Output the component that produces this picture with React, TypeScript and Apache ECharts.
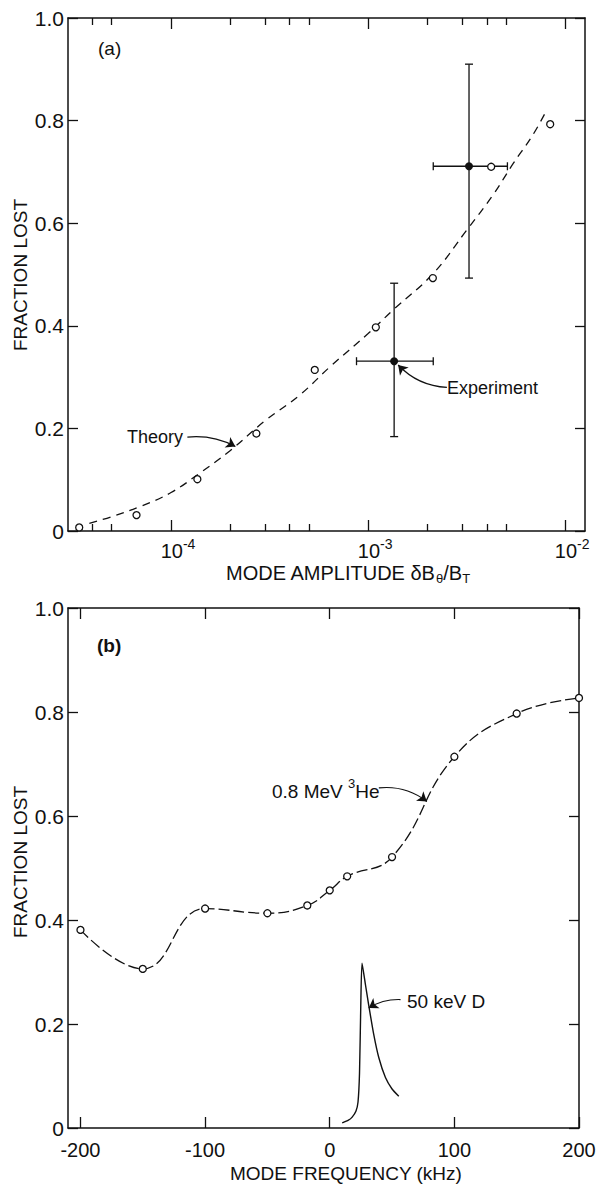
import React, { useEffect, useRef } from 'react';
import * as echarts from 'echarts';

const FONT = "'Liberation Sans', Arial, sans-serif";
const INK = '#111';

// ---------- Panel (a): fraction lost vs mode amplitude ----------
const theoryAmp = [3.85e-5, 5e-5, 7e-5, 1e-4, 1.4e-4, 2e-4, 3e-4, 4.5e-4, 6.4e-4, 1e-3, 1.34e-3, 2.14e-3, 3.17e-3, 4.3e-3, 5.46e-3, 6.8e-3, 8.07e-3];
const theoryFrac = [0.015, 0.028, 0.048, 0.075, 0.113, 0.157, 0.215, 0.265, 0.32, 0.385, 0.431, 0.502, 0.587, 0.655, 0.717, 0.77, 0.821];
const theoryPtAmp = [3.42e-5, 6.68e-5, 1.36e-4, 2.71e-4, 5.36e-4, 1.094e-3, 2.13e-3, 4.21e-3, 8.39e-3];
const theoryPtFrac = [0.007, 0.031, 0.101, 0.19, 0.314, 0.397, 0.493, 0.71, 0.793];
const expAmp = [1.355e-3, 3.25e-3];
const expFrac = [0.331, 0.711];
const expAmpLo = [8.73e-4, 2.14e-3];
const expAmpHi = [2.14e-3, 5.09e-3];
const expFracLo = [0.184, 0.493];
const expFracHi = [0.483, 0.91];
const ampMajorTicks = [1e-4, 1e-3, 1e-2];
const ampMinorTicks = [4e-5, 5e-5, 2e-4, 3e-4, 4e-4, 5e-4, 2e-3, 3e-3, 4e-3, 5e-3];
const ampMin = 3e-5;
const ampMax = 1.26e-2;

// ---------- Panel (b): fraction lost vs mode frequency ----------
const freq = [-200, -150, -100, -50, -18, 0, 14, 50, 100, 150, 200];
const he3Frac = [0.381, 0.306, 0.422, 0.413, 0.428, 0.457, 0.484, 0.521, 0.714, 0.797, 0.827];
const dFreq = [10, 15, 18, 21, 22.7, 23.9, 24.9, 25.9, 28.7, 31.3, 35.3, 39.4, 44.7, 50, 55.4];
const dFrac = [0.01, 0.015, 0.021, 0.032, 0.05, 0.106, 0.234, 0.317, 0.275, 0.236, 0.18, 0.135, 0.097, 0.075, 0.061];
const freqTicks = [-200, -100, 0, 100, 200];
const freqMin = -210;
const freqMax = 200;

// annotation arrows (data units)
const theoryArrow = [[1.21e-4, 0.183], [2.12e-4, 0.1647]];
const expArrow = [[2.51e-3, 0.28], [1.42e-3, 0.3236]];
const he3Arrow = [[39.4, 0.654], [77.9, 0.628]];
const dArrow = [[56.8, 0.247], [31.3, 0.231]];

const zip = (a: number[], b: number[]) => a.map((v, i) => [v, b[i]]);

const axisLineStyle = { color: INK, width: 1.5 };
const tickStyle = { color: INK, width: 1.3 };

function xAxisDef(gridIndex: number, type: string, min: number, max: number, position: string, ticks: number[], len: number, showLine: boolean, labels: any) {
  return {
    type,
    gridIndex,
    position,
    min,
    max,
    logBase: 10,
    axisLine: { show: showLine, onZero: false, lineStyle: axisLineStyle },
    axisTick: { show: true, inside: true, length: len, customValues: ticks, lineStyle: tickStyle },
    axisLabel: labels ? labels : { show: false },
    splitLine: { show: false },
    minorTick: { show: false },
    minorSplitLine: { show: false },
  };
}

function yAxisDef(gridIndex: number, position: string, showLabels: boolean) {
  return {
    type: 'value',
    gridIndex,
    position,
    min: 0,
    max: 1,
    interval: 0.2,
    axisLine: { show: true, onZero: false, lineStyle: axisLineStyle },
    axisTick: { show: true, inside: true, length: 10, lineStyle: tickStyle },
    axisLabel: showLabels
      ? {
          show: true,
          margin: 4,
          color: INK,
          fontFamily: FONT,
          fontSize: 21,
          formatter: (v: number) => (v === 0 ? '0' : v.toFixed(1)),
        }
      : { show: false },
    splitLine: { show: false },
  };
}

function arrowSeries(xi: number, yi: number, coords: number[][], curveness: number) {
  return {
    type: 'lines',
    coordinateSystem: 'cartesian2d',
    xAxisIndex: xi,
    yAxisIndex: yi,
    symbol: ['none', 'arrow'],
    symbolSize: 9,
    lineStyle: { color: INK, width: 1.2, curveness, opacity: 1 },
    data: [{ coords }],
    silent: true,
    z: 5,
  };
}

export default function App() {
  const ref = useRef<HTMLDivElement>(null);

  useEffect(() => {
    if (!ref.current) return;
    const chart = echarts.init(ref.current, null, { renderer: 'svg' });

    const powLabel = {
      show: true,
      customValues: ampMajorTicks,
      margin: 6,
      color: INK,
      fontFamily: FONT,
      formatter: (v: number) => `{b|10}{s|${Math.round(Math.log10(v))}}`,
      rich: {
        b: { fontSize: 20, lineHeight: 24, verticalAlign: 'bottom', fontFamily: FONT, color: INK },
        s: { fontSize: 14, lineHeight: 12, verticalAlign: 'top', fontFamily: FONT, color: INK },
      },
      padding: [0, 0, 0, 14],
    };

    const freqLabel = {
      show: true,
      customValues: freqTicks,
      margin: 12,
      color: INK,
      fontFamily: FONT,
      fontSize: 20,
      formatter: (v: number) => String(v),
    };

    const errorData = expAmp.map((x, i) => [x, expFrac[i], expAmpLo[i], expAmpHi[i], expFracLo[i], expFracHi[i]]);

    const option: any = {
      animation: false,
      backgroundColor: '#fff',
      grid: [
        { left: 68, top: 18, width: 517, height: 513, outerBoundsMode: 'none', containLabel: false },
        { left: 68, top: 608, width: 511, height: 520, outerBoundsMode: 'none', containLabel: false },
      ],
      xAxis: [
        xAxisDef(0, 'log', ampMin, ampMax, 'bottom', ampMajorTicks, 11, true, powLabel),
        xAxisDef(0, 'log', ampMin, ampMax, 'bottom', ampMinorTicks, 7, false, null),
        xAxisDef(0, 'log', ampMin, ampMax, 'top', ampMajorTicks, 11, true, null),
        xAxisDef(0, 'log', ampMin, ampMax, 'top', ampMinorTicks, 7, false, null),
        xAxisDef(1, 'value', freqMin, freqMax, 'bottom', freqTicks, 11, true, freqLabel),
        xAxisDef(1, 'value', freqMin, freqMax, 'top', freqTicks, 11, true, null),
      ],
      yAxis: [
        yAxisDef(0, 'left', true),
        yAxisDef(0, 'right', false),
        yAxisDef(1, 'left', true),
        yAxisDef(1, 'right', false),
      ],
      series: [
        {
          type: 'line',
          xAxisIndex: 0,
          yAxisIndex: 0,
          data: zip(theoryAmp, theoryFrac),
          smooth: 0.4,
          showSymbol: false,
          lineStyle: { color: INK, width: 1.3, type: [8, 6] },
          z: 2,
        },
        {
          type: 'scatter',
          xAxisIndex: 0,
          yAxisIndex: 0,
          data: zip(theoryPtAmp, theoryPtFrac),
          symbol: 'circle',
          symbolSize: 7,
          itemStyle: { color: '#fff', borderColor: INK, borderWidth: 1.3, opacity: 1 },
          z: 4,
        },
        {
          type: 'custom',
          xAxisIndex: 0,
          yAxisIndex: 0,
          data: errorData,
          encode: { x: [0, 2, 3], y: [1, 4, 5] },
          renderItem: (params: any, api: any) => {
            const x = api.value(0);
            const y = api.value(1);
            const pL = api.coord([api.value(2), y]);
            const pR = api.coord([api.value(3), y]);
            const pB = api.coord([x, api.value(4)]);
            const pT = api.coord([x, api.value(5)]);
            const style = { stroke: INK, lineWidth: 1.3, fill: 'none' };
            const c = 4;
            const ln = (x1: number, y1: number, x2: number, y2: number) => ({
              type: 'line',
              shape: { x1, y1, x2, y2 },
              style,
            });
            return {
              type: 'group',
              children: [
                ln(pL[0], pL[1], pR[0], pR[1]),
                ln(pL[0], pL[1] - c, pL[0], pL[1] + c),
                ln(pR[0], pR[1] - c, pR[0], pR[1] + c),
                ln(pB[0], pB[1], pT[0], pT[1]),
                ln(pB[0] - c, pB[1], pB[0] + c, pB[1]),
                ln(pT[0] - c, pT[1], pT[0] + c, pT[1]),
              ],
            };
          },
          z: 3,
        },
        {
          type: 'scatter',
          xAxisIndex: 0,
          yAxisIndex: 0,
          data: zip(expAmp, expFrac),
          symbol: 'circle',
          symbolSize: 8,
          itemStyle: { color: INK, opacity: 1 },
          z: 5,
        },
        arrowSeries(0, 0, theoryArrow, 0.15),
        arrowSeries(0, 0, expArrow, 0.2),
        {
          type: 'line',
          xAxisIndex: 4,
          yAxisIndex: 2,
          data: zip(freq, he3Frac),
          smooth: 0.45,
          showSymbol: false,
          lineStyle: { color: INK, width: 1.3, type: [11, 4] },
          z: 2,
        },
        {
          type: 'scatter',
          xAxisIndex: 4,
          yAxisIndex: 2,
          data: zip(freq, he3Frac),
          symbol: 'circle',
          symbolSize: 7,
          itemStyle: { color: '#fff', borderColor: INK, borderWidth: 1.3, opacity: 1 },
          z: 4,
        },
        {
          type: 'line',
          xAxisIndex: 4,
          yAxisIndex: 2,
          data: zip(dFreq, dFrac),
          smooth: 0.2,
          showSymbol: false,
          lineStyle: { color: INK, width: 1.4 },
          z: 2,
        },
        arrowSeries(4, 2, he3Arrow, 0.2),
        arrowSeries(4, 2, dArrow, -0.15),
      ],
      graphic: [
        { type: 'text', x: 98, y: 48, style: { text: '(a)', font: `19px ${FONT}`, fill: INK, verticalAlign: 'middle' } },
        { type: 'text', x: 97, y: 645, style: { text: '(b)', font: `bold 19px ${FONT}`, fill: INK, verticalAlign: 'middle' } },
        { type: 'text', x: 127, y: 437, style: { text: 'Theory', font: `18px ${FONT}`, fill: INK, verticalAlign: 'middle' } },
        { type: 'text', x: 447, y: 388, style: { text: 'Experiment', font: `18px ${FONT}`, fill: INK, verticalAlign: 'middle' } },
        {
          type: 'text',
          x: 272,
          y: 777,
          style: {
            text: '{m|0.8 MeV }{s|3}{m|He}',
            fill: INK,
            rich: {
              m: { fontSize: 19, fontFamily: FONT, lineHeight: 24, verticalAlign: 'bottom', fill: INK },
              s: { fontSize: 13, fontFamily: FONT, lineHeight: 12, verticalAlign: 'top', fill: INK },
            },
            verticalAlign: 'top',
          },
        },
        { type: 'text', x: 407, y: 1001, style: { text: '50 keV D', font: `19px ${FONT}`, fill: INK, verticalAlign: 'middle' } },
        {
          type: 'text',
          x: 226,
          y: 563,
          style: {
            text: '{m|MODE AMPLITUDE δB}{s|θ}{m|/B}{s|T}',
            fill: INK,
            rich: {
              m: { fontSize: 20, fontFamily: FONT, lineHeight: 22, verticalAlign: 'top', fill: INK },
              s: { fontSize: 13, fontFamily: FONT, lineHeight: 13, verticalAlign: 'bottom', fill: INK },
            },
            verticalAlign: 'top',
          },
        },
        { type: 'text', x: 230, y: 1173, style: { text: 'MODE FREQUENCY (kHz)', font: `19px ${FONT}`, fill: INK, verticalAlign: 'middle' } },
        {
          type: 'text',
          x: 20,
          y: 275,
          rotation: Math.PI / 2,
          style: { text: 'FRACTION LOST', font: `19px ${FONT}`, fill: INK, align: 'center', verticalAlign: 'middle' },
        },
        {
          type: 'text',
          x: 20,
          y: 862,
          rotation: Math.PI / 2,
          style: { text: 'FRACTION LOST', font: `19px ${FONT}`, fill: INK, align: 'center', verticalAlign: 'middle' },
        },
      ],
    };

    chart.setOption(option);
    return () => chart.dispose();
  }, []);

  return (
    <div
      ref={ref}
      style={{ position: 'absolute', left: 0, top: 0, width: 600, height: 1186, background: '#fff' }}
    />
  );
}
